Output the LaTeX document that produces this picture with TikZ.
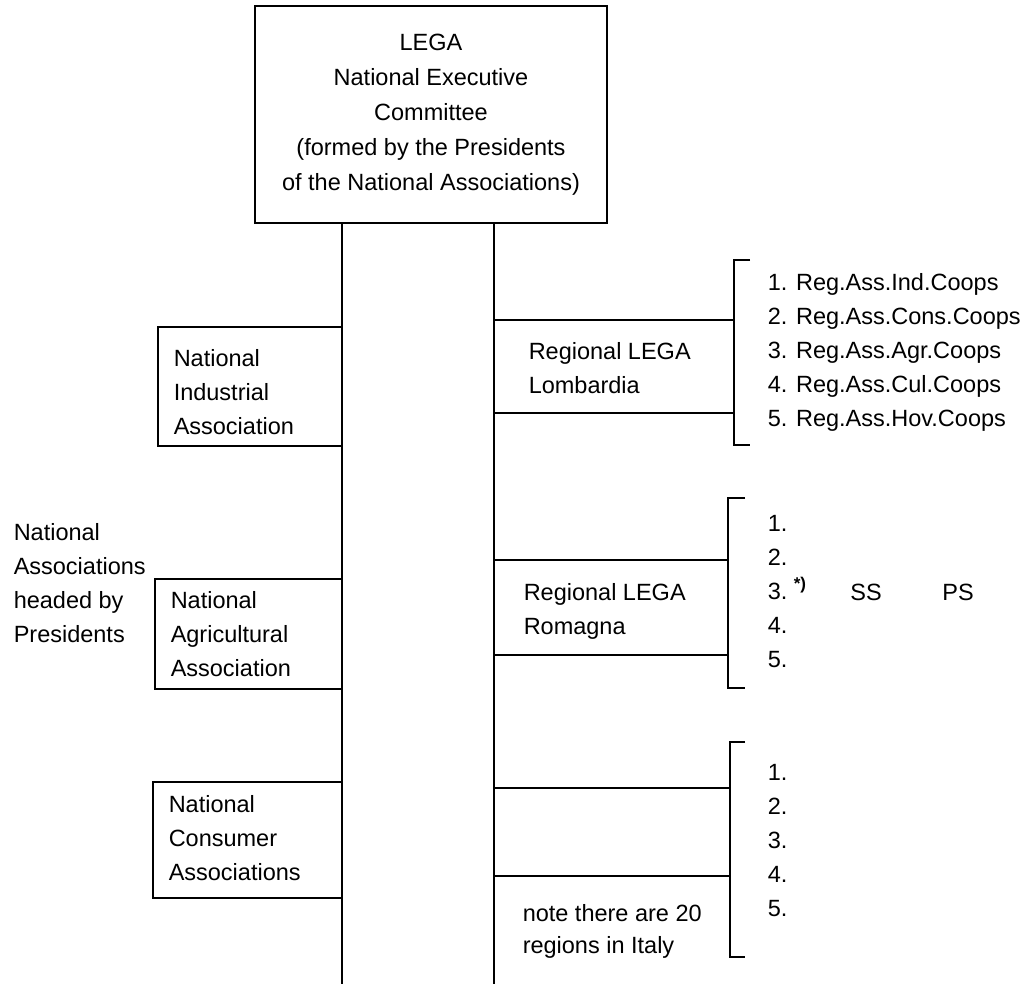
\documentclass[tikz,border=0pt]{standalone}
\usepackage{fontspec}
\setmainfont{Liberation Sans}
\begin{document}
\begin{tikzpicture}[x=1pt,y=-1pt,line width=1.5pt,
  txt/.style={font=\fontsize{23.5}{34}\selectfont,inner sep=0pt,align=left,anchor=west},
  box/.style={draw,rectangle,inner sep=0pt}]
\useasboundingbox (0,0) rectangle (1022,984);
% top box
\node[box,minimum width=352pt,minimum height=217pt,align=center,
  font=\fontsize{23.5}{35}\selectfont] (lega) at (431,114.5)
  {LEGA\\National Executive\\Committee\\(formed by the Presidents\\of the National Associations)};
% trunk lines
\coordinate (lbot) at (342,984);
\coordinate (rbot) at (494,984);
\draw (lega.south -| lbot) -- (lbot);
\draw (lega.south -| rbot) -- (rbot);
% national associations (left)
\node[box,minimum width=184pt,minimum height=119pt] (ind) at (250,386.5) {};
\node[txt] (indt) at (173,392) {National\\Industrial\\Association};
\node[box,minimum width=187pt,minimum height=110pt] (agr) at (248.5,634) {};
\node[txt] (agrt) at (170,634) {National\\Agricultural\\Association};
\node[box,minimum width=189pt,minimum height=116pt] (con) at (247.5,840) {};
\node[txt] (cont) at (168,838) {National\\Consumer\\Associations};
\node[txt] (headed) at (13,583) {National\\Associations\\headed by\\Presidents};
% regional LEGA (right)
\node[box,minimum width=240pt,minimum height=93pt] (lomb) at (614,366.5) {};
\node[txt] (lombt) at (528,368.5) {Regional LEGA\\Lombardia};
\node[box,minimum width=234pt,minimum height=95pt] (rom) at (611,607.5) {};
\node[txt] (romt) at (523,611) {Regional LEGA\\Romagna};
\node[box,minimum width=236pt,minimum height=88pt] (third) at (612,832) {};
\node[txt,font=\fontsize{23.5}{32}\selectfont] (note) at (522,931) {note there are 20\\regions in Italy};
% brackets
\coordinate (b1t) at (734,260); \coordinate (b1b) at (734,445);
\draw ([xshift=16pt]b1t) -- (b1t) -- (b1b) -- ([xshift=16pt]b1b);
\coordinate (b2t) at (728,498); \coordinate (b2b) at (728,688);
\draw ([xshift=17pt]b2t) -- (b2t) -- (b2b) -- ([xshift=17pt]b2b);
\coordinate (b3t) at (730,742); \coordinate (b3b) at (730,957);
\draw ([xshift=15pt]b3t) -- (b3t) -- (b3b) -- ([xshift=15pt]b3b);
% lists
\node[txt] (list1) at (767,352) {1. Reg.Ass.Ind.Coops\\2. Reg.Ass.Cons.Coops\\3. Reg.Ass.Agr.Coops\\4. Reg.Ass.Cul.Coops\\5. Reg.Ass.Hov.Coops};
\node[txt] (list2) at (767,592) {1.\\2.\\3.\\4.\\5.};
\node[txt,font=\fontsize{17}{20}\selectfont\bfseries] (star) at (793,585) {*)};
\node[txt,anchor=center] (ss) at (866,592) {SS};
\node[txt,anchor=center] (ps) at (958,592) {PS};
\node[txt] (list3) at (767,841) {1.\\2.\\3.\\4.\\5.};
\end{tikzpicture}
\end{document}
